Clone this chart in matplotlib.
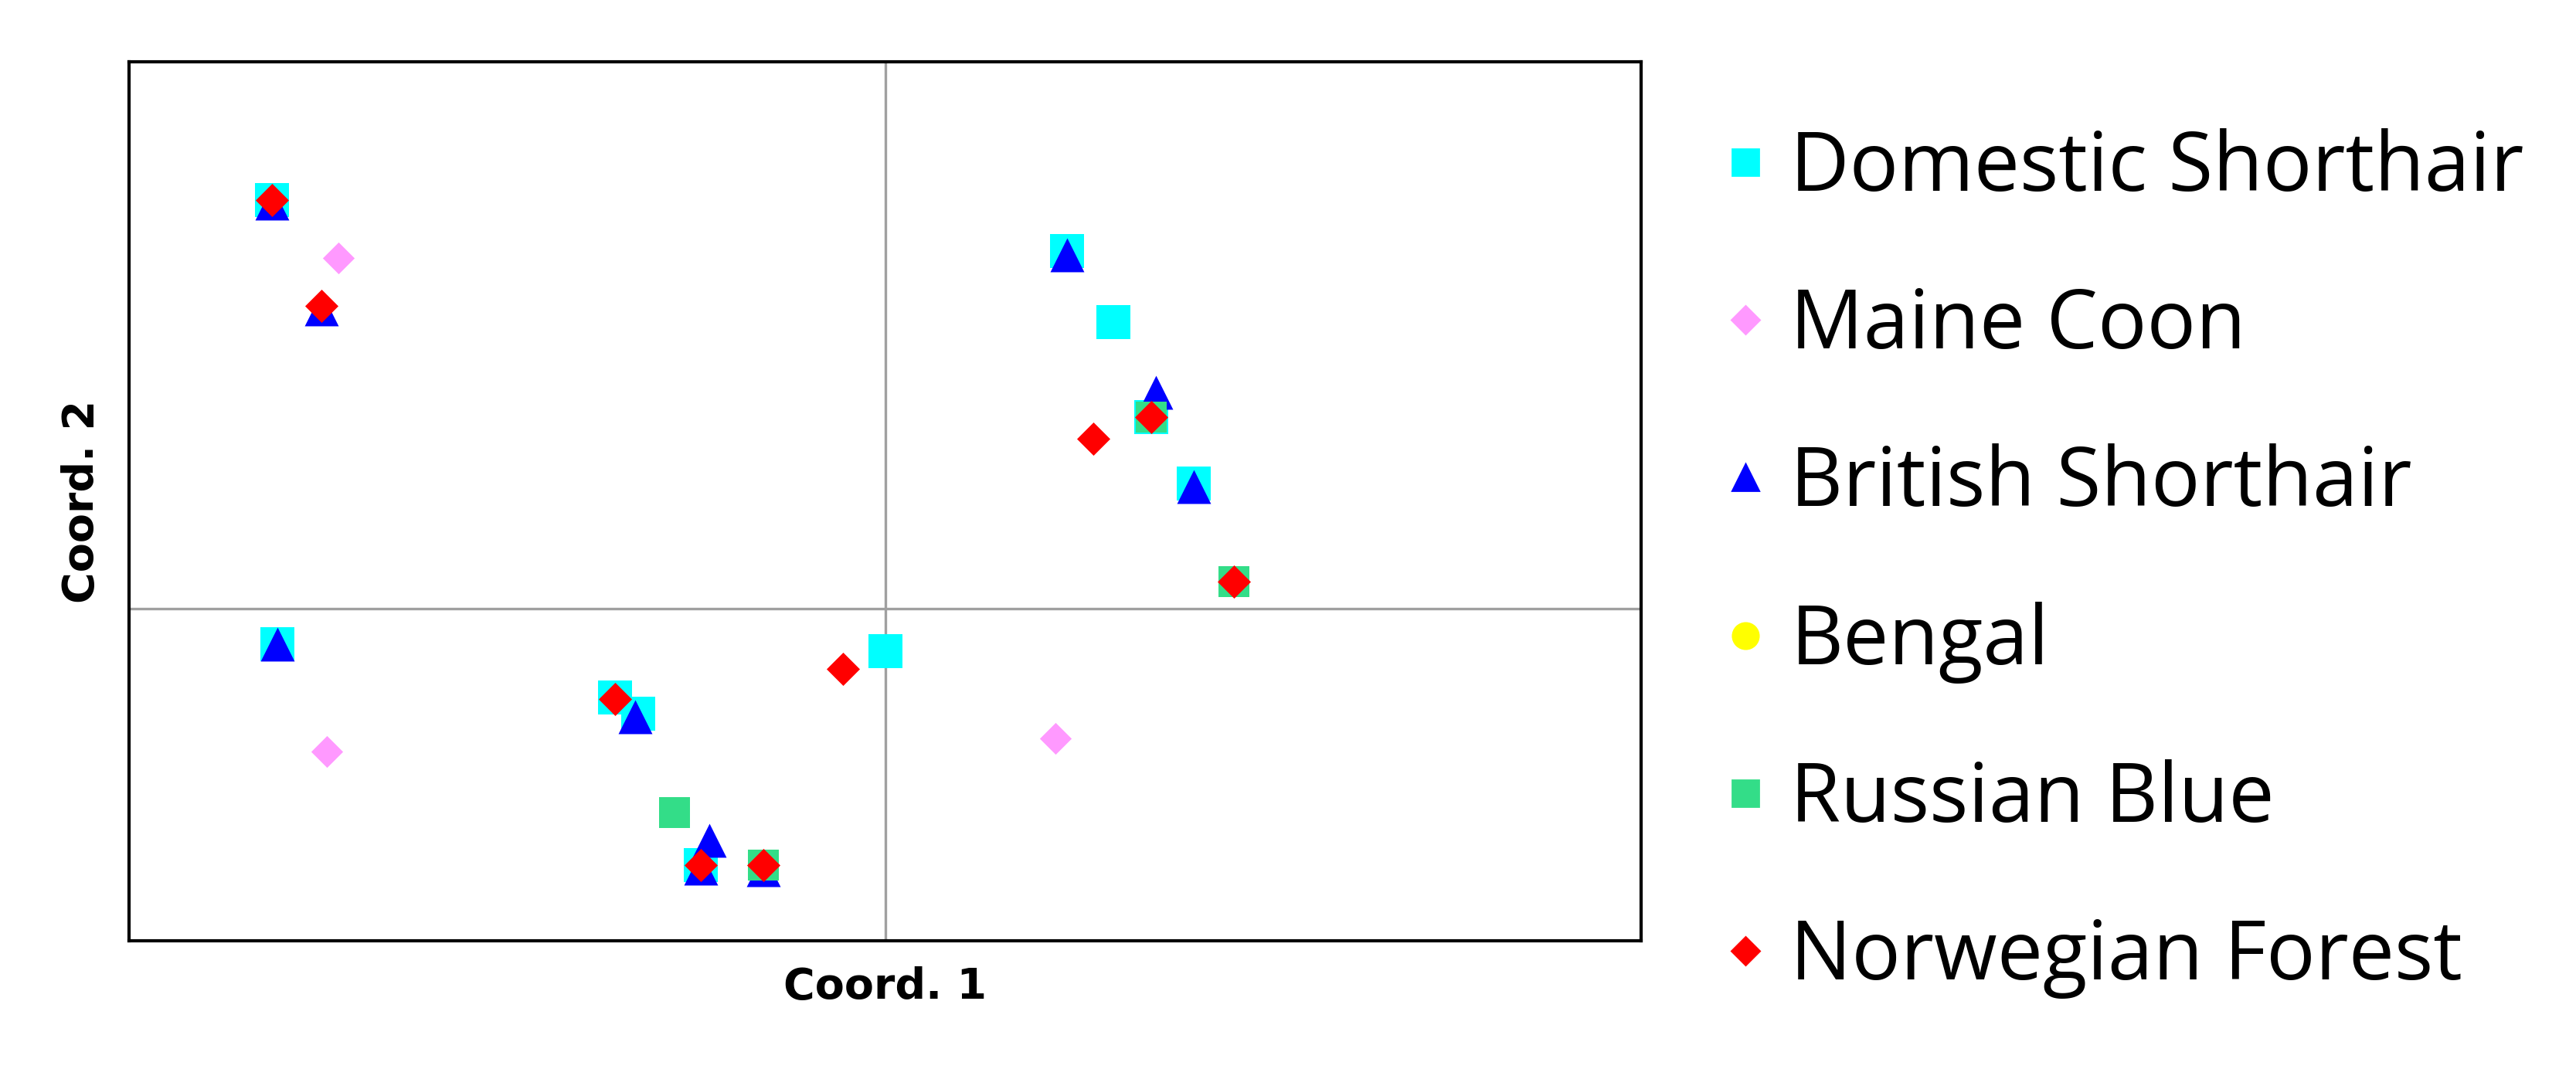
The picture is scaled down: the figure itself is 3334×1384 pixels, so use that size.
import matplotlib
matplotlib.use("Agg")
import matplotlib.pyplot as plt
from matplotlib.lines import Line2D

# data (Coord.1, Coord.2)
ds_x = [-3.72, -3.69, 1.10, 1.38, 1.61, 1.87, 0.00, -1.64, -1.50, -1.12]
ds_y = [2.48, -0.22, 2.17, 1.74, 1.16, 0.76, -0.26, -0.54, -0.64, -1.56]
mc_x = [-3.32, -3.39, 1.03]
mc_y = [2.13, -0.87, -0.79]
bs_x = [-3.72, -3.42, -3.69, -1.52, -1.07, -1.12, -0.74, 1.10, 1.64, 1.87]
bs_y = [2.46, 1.82, -0.22, -0.66, -1.41, -1.58, -1.59, 2.15, 1.31, 0.74]
bg_x = [2.11, -0.74]
bg_y = [0.16, -1.56]
rb_x = [-1.28, 1.61, 2.11, -0.74]
rb_y = [-1.24, 1.16, 0.16, -1.56]
nf_x = [-3.72, -3.42, -1.64, -1.12, -0.74, -0.26, 1.26, 1.61, 2.11]
nf_y = [2.48, 1.84, -0.55, -1.56, -1.56, -0.37, 1.03, 1.16, 0.16]

fig = plt.figure(figsize=(16.67, 6.92), dpi=200)
ax = fig.add_axes([0.050, 0.12, 0.587, 0.822])
ax.axhline(0, color="#a0a0a0", lw=1.2, zorder=0)
ax.axvline(0, color="#a0a0a0", lw=1.2, zorder=0)

series = [
    ("Domestic Shorthair", ds_x, ds_y, "s", "#00FFFF", 240),
    ("Maine Coon", mc_x, mc_y, "D", "#FF99FF", 110),
    ("British Shorthair", bs_x, bs_y, "^", "#0000FF", 250),
    ("Bengal", bg_x, bg_y, "o", "#FFFF00", 200),
    ("Russian Blue", rb_x, rb_y, "s", "#33DD88", 200),
    ("Norwegian Forest", nf_x, nf_y, "D", "#FF0000", 120),
]
handles = []
for name, x, y, m, c, s in series:
    ax.scatter(x, y, marker=m, s=s, color=c, linewidths=0, zorder=3)
    handles.append(Line2D([], [], marker=m, color=c, linestyle="none",
                          markersize=12 if m in "s^o" else 9, label=name))

ax.set_xlim(-4.59, 4.58)
ax.set_ylim(-2.02, 3.32)
ax.set_xticks([]); ax.set_yticks([])
for sp in ax.spines.values():
    sp.set_linewidth(1.5); sp.set_color("black")
ax.set_xlabel("Coord. 1", fontsize=20, fontweight="bold", labelpad=12)
ax.set_ylabel("Coord. 2", fontsize=20, fontweight="bold", labelpad=12)

fig.legend(handles=handles, loc="upper left", bbox_to_anchor=(0.665, 0.88),
           frameon=False, labelspacing=0.93, handletextpad=0.15,
           handlelength=0.8, borderaxespad=0, borderpad=0,
           prop={"family": "Open Sans", "size": 38})
fig.savefig("out.png", dpi=200)
